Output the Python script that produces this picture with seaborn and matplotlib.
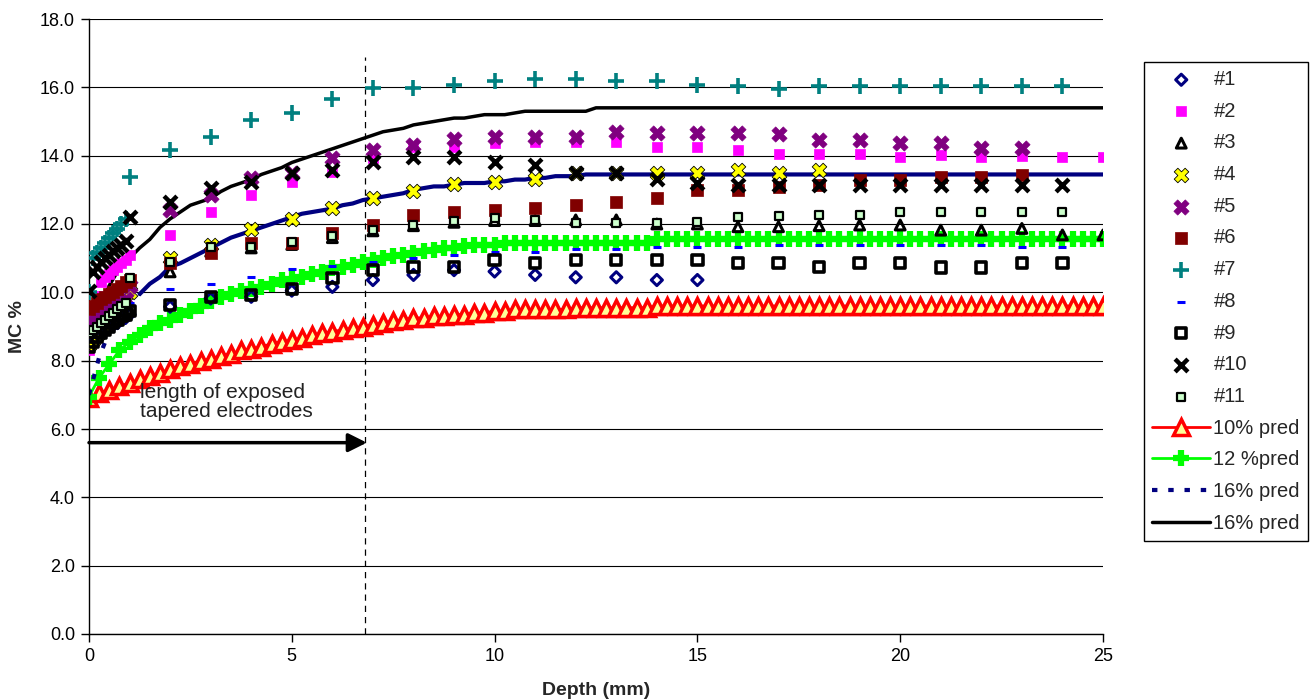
import numpy as np
import pandas as pd
import matplotlib
matplotlib.use("Agg")
import matplotlib.pyplot as plt
import seaborn as sns

nan = np.nan

# ---------------- observed data ----------------
depth_obs = [0, 0.1, 0.2, 0.3, 0.4, 0.5, 0.6, 0.7, 0.8, 0.9,
             1, 2, 3, 4, 5, 6, 7, 8, 9, 10, 11, 12, 13, 14, 15,
             16, 17, 18, 19, 20, 21, 22, 23, 24, 25]

s1 = [8.4, 8.6, 8.7, 8.8, 8.9, 9.0, 9.05, 9.1, 9.2, 9.25,
      9.35, 9.58, 9.82, 9.87, 10.05, 10.16, 10.36, 10.51, 10.65, 10.61, 10.51, 10.44, 10.44, 10.36, 10.36,
      nan, nan, nan, nan, nan, nan, nan, nan, nan, nan]
s2 = [8.3, 9.3, 9.9, 10.3, 10.45, 10.55, 10.65, 10.75, 10.85, 10.95,
      11.1, 11.68, 12.36, 12.85, 13.22, 13.53, 13.92, 14.26, 14.26, 14.36, 14.41, 14.41, 14.41, 14.26, 14.26,
      14.18, 14.05, 14.05, 14.05, 13.97, 14.03, 13.97, 14.0, 13.97, 13.97]
s3 = [8.6, 8.7, 8.8, 8.9, 9.0, 9.1, 9.15, 9.2, 9.3, 9.35,
      9.5, 10.6, 11.2, 11.3, 11.4, 11.6, 11.8, 11.95, 12.05, 12.1, 12.1, 12.12, 12.12, 12.0, 12.0,
      11.92, 11.92, 11.95, 11.97, 11.97, 11.82, 11.82, 11.87, 11.68, 11.68]
s4 = [8.45, 8.6, 8.75, 8.9, 9.0, 9.15, 9.3, 9.45, 9.6, 9.75,
      10.0, 11.0, 11.38, 11.84, 12.14, 12.47, 12.75, 12.96, 13.17, 13.24, 13.33, 13.48, 13.48, 13.48, 13.48,
      13.58, 13.48, 13.58, nan, nan, nan, nan, nan, nan, nan]
s5 = [9.0, 9.1, 9.2, 9.3, 9.4, 9.5, 9.55, 9.6, 9.7, 9.8,
      10.2, 12.4, 12.85, 13.35, 13.5, 13.92, 14.16, 14.31, 14.5, 14.55, 14.55, 14.55, 14.68, 14.65, 14.65,
      14.65, 14.63, 14.47, 14.47, 14.36, 14.36, 14.21, 14.21, nan, nan]
s6 = [9.5, 9.6, 9.7, 9.8, 9.85, 9.95, 10.0, 10.1, 10.2, 10.3,
      10.36, 10.85, 11.15, 11.44, 11.45, 11.73, 11.97, 12.26, 12.36, 12.41, 12.46, 12.55, 12.65, 12.75, 12.99,
      12.99, 13.09, 13.14, 13.29, 13.29, 13.38, 13.38, 13.43, nan, nan]
s7 = [10.0, 11.0, 11.15, 11.3, 11.45, 11.6, 11.75, 11.85, 12.0, 12.15,
      13.37, 14.16, 14.55, 15.04, 15.25, 15.66, 15.98, 15.98, 16.07, 16.18, 16.24, 16.24, 16.2, 16.2, 16.07,
      16.05, 15.95, 16.05, 16.05, 16.05, 16.05, 16.05, 16.05, 16.05, nan]
s8 = [8.6, 8.7, 8.8, 8.9, 9.0, 9.1, 9.2, 9.3, 9.4, 9.5,
      9.7, 10.09, 10.24, 10.46, 10.67, 10.77, 10.9, 11.0, 11.09, 11.19, 11.19, 11.26, 11.26, 11.34, 11.34,
      11.34, 11.4, 11.4, 11.4, 11.4, 11.4, 11.4, 11.34, 11.34, nan]
s9 = [8.4, 8.55, 8.7, 8.8, 8.9, 9.0, 9.1, 9.2, 9.3, 9.35,
      9.45, 9.63, 9.87, 9.92, 10.1, 10.41, 10.65, 10.75, 10.75, 10.95, 10.85, 10.95, 10.95, 10.95, 10.95,
      10.85, 10.85, 10.75, 10.85, 10.85, 10.73, 10.73, 10.85, 10.85, nan]
s10 = [10.05, 10.6, 10.75, 10.9, 11.0, 11.1, 11.2, 11.3, 11.4, 11.5,
       12.2, 12.65, 13.04, 13.24, 13.48, 13.58, 13.82, 13.97, 13.97, 13.82, 13.73, 13.48, 13.48, 13.33, 13.19,
       13.14, 13.14, 13.14, 13.14, 13.14, 13.14, 13.14, 13.14, 13.14, nan]
s11 = [8.8, 8.9, 9.0, 9.1, 9.2, 9.3, 9.4, 9.5, 9.6, 9.7,
       10.42, 10.88, 11.34, 11.34, 11.47, 11.66, 11.82, 11.97, 12.1, 12.18, 12.12, 12.02, 12.02, 12.02, 12.07,
       12.2, 12.23, 12.26, 12.26, 12.36, 12.36, 12.36, 12.36, 12.36, nan]

# ---------------- predicted curves (every 0.25 mm) ----------------
depth_pred = np.arange(0, 25.001, 0.25)

pred10 = ([6.90, 7.05, 7.15, 7.25, 7.35, 7.45, 7.55, 7.65, 7.75, 7.85, 7.90, 8.00,
           8.05, 8.15, 8.20, 8.30, 8.35, 8.40, 8.50, 8.55, 8.60, 8.65, 8.75, 8.80,
           8.85, 8.90, 8.95, 9.00, 9.05, 9.10, 9.15, 9.20, 9.25, 9.25, 9.30, 9.30,
           9.35, 9.35, 9.40, 9.40, 9.45, 9.45, 9.50, 9.50, 9.50, 9.50, 9.50, 9.50]
          + [9.55] * 8 + [9.60] * 45)
pred12 = ([6.95, 7.50, 7.90, 8.30, 8.55, 8.75, 8.95, 9.10, 9.20, 9.35, 9.45, 9.60,
           9.75, 9.85, 9.95, 10.05, 10.10, 10.15, 10.25, 10.35, 10.40, 10.45, 10.55, 10.60,
           10.70, 10.75, 10.80, 10.90, 10.95, 11.00, 11.05, 11.10, 11.15, 11.20, 11.25, 11.30,
           11.30, 11.35, 11.40, 11.40, 11.40, 11.45, 11.45, 11.45]
          + [11.45] * 12 + [11.55] * 45)
pred16a = ([7.00, 8.10, 8.85, 9.30, 9.65, 9.95, 10.25, 10.45, 10.75, 10.85, 11.00, 11.15,
            11.30, 11.45, 11.60, 11.70, 11.80, 11.90, 12.00, 12.10, 12.20, 12.30, 12.35, 12.40,
            12.45, 12.55, 12.60, 12.70, 12.75, 12.80, 12.85, 12.90, 13.00, 13.05, 13.10, 13.10,
            13.15, 13.20, 13.20, 13.20, 13.25, 13.25, 13.30, 13.30, 13.35, 13.35, 13.40, 13.40,
            13.40, 13.45, 13.45, 13.45]
           + [13.45] * 49)
pred16b = ([9.00, 9.60, 10.20, 10.70, 11.00, 11.30, 11.55, 11.90, 12.15, 12.35, 12.55, 12.65,
            12.75, 12.95, 13.10, 13.20, 13.30, 13.45, 13.55, 13.65, 13.80, 13.90, 14.00, 14.10,
            14.20, 14.30, 14.40, 14.50, 14.60, 14.70, 14.75, 14.80, 14.90, 14.95, 15.00, 15.05,
            15.10, 15.10, 15.15, 15.20, 15.20, 15.20, 15.25, 15.30, 15.30, 15.30, 15.30, 15.30,
            15.30, 15.30]
           + [15.40] * 51)

obs = pd.DataFrame({"depth": depth_obs, "#1": s1, "#2": s2, "#3": s3, "#4": s4, "#5": s5,
                    "#6": s6, "#7": s7, "#8": s8, "#9": s9, "#10": s10, "#11": s11})
pred = pd.DataFrame({"depth": depth_pred, "p10": pred10, "p12": pred12,
                     "p16a": pred16a, "p16b": pred16b})

# ---------------- figure ----------------
sns.set_theme(style="white")
plt.rcParams['font.family'] = ['Liberation Sans', 'DejaVu Sans']

fig = plt.figure(figsize=(13.16, 7.0), dpi=100)
ax = fig.add_axes([89 / 1316, 1 - 634 / 700, (1103 - 89) / 1316, (634 - 19) / 700])

# predicted lines (below markers)
sns.lineplot(data=pred, x="depth", y="p10", ax=ax, color="#FF0000", lw=2,
             marker="^", markersize=11, markerfacecolor="#FFFF99", markeredgecolor="#FF0000",
             markeredgewidth=2.5, label="10% pred", zorder=2, estimator=None, sort=False)
sns.lineplot(data=pred, x="depth", y="p12", ax=ax, color="#00FF00", lw=2,
             marker="+", markersize=12, markeredgecolor="#00FF00", markeredgewidth=4.5,
             label="12 %pred", zorder=2, estimator=None, sort=False)
head = pred.iloc[:6]
tail = pred.iloc[5:]
sns.lineplot(data=head, x="depth", y="p16a", ax=ax, color="#000080", lw=3,
             linestyle=(0, (1.3, 2.6)), label="16% pred", zorder=2, estimator=None, sort=False)
sns.lineplot(data=tail, x="depth", y="p16a", ax=ax, color="#000080", lw=3,
             zorder=2, estimator=None, sort=False)
sns.lineplot(data=pred, x="depth", y="p16b", ax=ax, color="black", lw=2.5,
             label="16% pred ", zorder=2, estimator=None, sort=False)

# observed markers
styles = {
    "#1": dict(marker="D", s=32, color="none", edgecolor="#000080", linewidth=2.2),
    "#2": dict(marker="s", s=48, color="#FF00FF", edgecolor="#FF00FF", linewidth=0.5),
    "#3": dict(marker="^", s=50, color="none", edgecolor="black", linewidth=2.2),
    "#4": dict(marker="X", s=110, color="#FFFF00", edgecolor="black", linewidth=0.6),
    "#5": dict(marker="X", s=120, color="#800080", edgecolor="#800080", linewidth=0.5),
    "#6": dict(marker="s", s=75, color="#800000", edgecolor="#800000", linewidth=0.5),
    "#7": dict(marker="+", s=130, color="#008080", linewidth=2.6),
    "#8": dict(marker="_", s=30, color="#0000FF", linewidth=2.2),
    "#9": dict(marker="s", s=55, color="none", edgecolor="black", linewidth=2.6),
    "#10": dict(marker="x", s=85, color="black", linewidth=3.2),
    "#11": dict(marker="s", s=36, color="#CCFFCC", edgecolor="black", linewidth=1.6),
}
for name, kw in styles.items():
    sns.scatterplot(data=obs, x="depth", y=name, ax=ax, label=name, zorder=3, **kw)

# annotation: electrode length
ax.axvline(6.8, ymin=0, ymax=16.9 / 18, color="black", lw=0.9, ls=(0, (5, 4)), zorder=1)
ax.annotate("", xy=(6.85, 5.6), xytext=(0, 5.6),
            arrowprops=dict(arrowstyle="-|>", color="black", lw=2.5, mutation_scale=28,
                            shrinkA=0, shrinkB=0), zorder=4)
ax.text(1.25, 6.8, "length of exposed\ntapered electrodes", fontsize=15, ha="left",
        va="center", color="#222222", linespacing=1.0, zorder=5)

# axes
ax.set_xlim(0, 25)
ax.set_ylim(0, 18)
ax.set_xticks([0, 5, 10, 15, 20, 25])
ax.set_yticks(np.arange(0, 18.1, 2))
ax.set_yticklabels([f"{v:.1f}" for v in np.arange(0, 18.1, 2)])
ax.tick_params(axis="both", which="major", labelsize=13, direction="out", length=6,
               width=1, color="black", labelcolor="black", left=True, bottom=True, pad=4)
ax.yaxis.grid(True, color="black", lw=0.8)
ax.xaxis.grid(False)
for side in ["top", "right"]:
    ax.spines[side].set_visible(False)
for side in ["left", "bottom"]:
    ax.spines[side].set_color("black")
    ax.spines[side].set_linewidth(1)
ax.set_xlabel("Depth (mm)", fontsize=14, fontweight="bold", labelpad=12)
ax.set_ylabel("MC %", fontsize=14, fontweight="bold", labelpad=10)

# legend
handles, labels = ax.get_legend_handles_labels()
order = ["#1", "#2", "#3", "#4", "#5", "#6", "#7", "#8", "#9", "#10", "#11",
         "10% pred", "12 %pred", "16% pred", "16% pred "]
hmap = dict(zip(labels, handles))
leg = ax.legend([hmap[k] for k in order], [k.strip() for k in order],
                loc="upper left", bbox_to_anchor=(1144 / 1316, 1 - 62 / 700),
                bbox_transform=fig.transFigure, fontsize=14.5, frameon=True,
                fancybox=False, edgecolor="black", framealpha=1,
                handlelength=2.9, handletextpad=0.15, labelspacing=0.63,
                borderpad=0.4, borderaxespad=0, scatterpoints=1, numpoints=1)
leg.get_frame().set_linewidth(1)

fig.savefig("out.png", dpi=100)
